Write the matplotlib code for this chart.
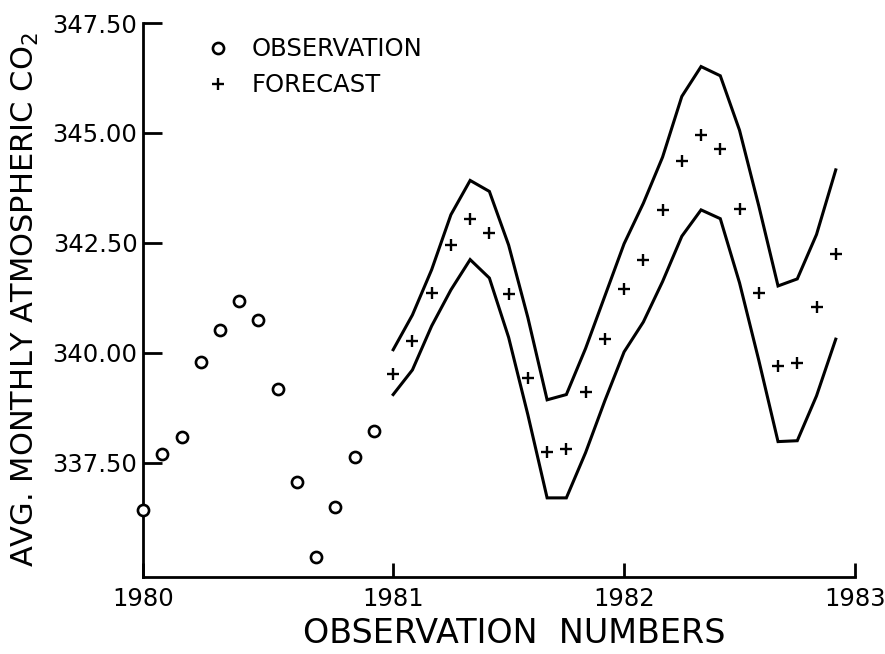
import numpy as np
import matplotlib
matplotlib.use("Agg")
import matplotlib.pyplot as plt

# Monthly observations (observation numbers 1-13)
obs_x = np.arange(1, 14)
obs_co2 = [336.42, 337.70, 338.08, 339.79, 340.52, 341.17, 340.75,
           339.17, 337.05, 335.36, 336.49, 337.63, 338.21]

# Forecasts and their upper / lower limits (observation numbers 14-37)
fc_x = np.arange(14, 38)
fc_co2 = [339.52, 340.26, 341.35, 342.45, 343.04, 342.72, 341.33, 339.42,
          337.74, 337.82, 339.10, 340.31, 341.44, 342.10, 343.25, 344.36,
          344.95, 344.64, 343.27, 341.36, 339.69, 339.77, 341.05, 342.25]
fc_upper = [340.07, 340.86, 341.89, 343.14, 343.92, 343.67, 342.45, 340.80,
            338.93, 339.05, 340.10, 341.29, 342.48, 343.40, 344.45, 345.83,
            346.51, 346.30, 345.06, 343.34, 341.52, 341.68, 342.69, 344.16]
fc_lower = [339.05, 339.61, 340.61, 341.43, 342.12, 341.70, 340.35, 338.59,
            336.70, 336.70, 337.73, 338.91, 340.02, 340.70, 341.62, 342.65,
            343.25, 343.05, 341.59, 339.83, 337.98, 338.00, 339.02, 340.31]

x_ticks = [1, 14, 26, 38]
x_labels = ["1980", "1981", "1982", "1983"]
y_ticks = [337.5, 340.0, 342.5, 345.0, 347.5]


def make_plot():
    plt.rcParams["font.family"] = ["DejaVu Sans"]
    fig = plt.figure(figsize=(8.85, 6.54), dpi=100)
    ax = fig.add_axes([0.1616, 0.1177, 0.8045, 0.8471])

    ax.plot(obs_x, obs_co2, linestyle="none", marker="o", markersize=8,
            markerfacecolor="white", markeredgecolor="black",
            markeredgewidth=1.9, clip_on=False, label="OBSERVATION", zorder=3)
    ax.plot(fc_x, fc_co2, linestyle="none", marker="+", markersize=8.5,
            color="black", markeredgewidth=1.7, label="FORECAST", zorder=3)
    ax.plot(fc_x, fc_upper, color="black", linewidth=2.2,
            solid_joinstyle="miter")
    ax.plot(fc_x, fc_lower, color="black", linewidth=2.2,
            solid_joinstyle="miter")

    ax.set_xlim(1, 38)
    ax.set_ylim(334.9, 347.5)

    ax.set_xticks(x_ticks)
    ax.set_xticklabels(x_labels)
    ax.set_yticks(y_ticks)
    ax.set_yticklabels([f"{v:.2f}" for v in y_ticks])

    for side in ["top", "right"]:
        ax.spines[side].set_visible(False)
    for side in ["left", "bottom"]:
        ax.spines[side].set_linewidth(2.0)

    ax.tick_params(axis="x", direction="in", length=10, width=2.0,
                   labelsize=17.5, pad=7)
    ax.tick_params(axis="y", direction="in", length=14, width=2.0,
                   labelsize=17.5, pad=4)

    ax.set_xlabel("OBSERVATION  NUMBERS", fontsize=24)
    ax.xaxis.set_label_coords(0.521, -0.072)
    ax.set_ylabel("AVG. MONTHLY ATMOSPHERIC CO$_2$", fontsize=22)
    ax.yaxis.set_label_coords(-0.143, 0.5)

    ax.legend(loc="upper left", bbox_to_anchor=(0.065, 1.005), frameon=False,
              fontsize=17.5, handlelength=1.0, handletextpad=0.85,
              labelspacing=0.5, borderaxespad=0.3)

    fig.savefig("out.png", dpi=100)


if __name__ == "__main__":
    make_plot()
